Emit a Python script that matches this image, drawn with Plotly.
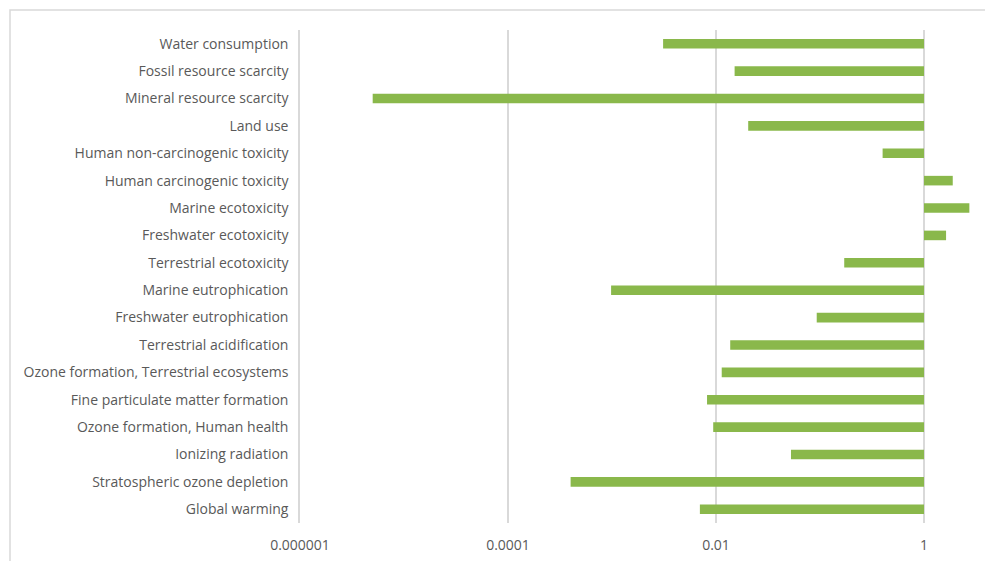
import plotly.graph_objects as go

categories = [
    "Water consumption",
    "Fossil resource scarcity",
    "Mineral resource scarcity",
    "Land use",
    "Human non-carcinogenic toxicity",
    "Human carcinogenic toxicity",
    "Marine ecotoxicity",
    "Freshwater ecotoxicity",
    "Terrestrial ecotoxicity",
    "Marine eutrophication",
    "Freshwater eutrophication",
    "Terrestrial acidification",
    "Ozone formation, Terrestrial ecosystems",
    "Fine particulate matter formation",
    "Ozone formation, Human health",
    "Ionizing radiation",
    "Stratospheric ozone depletion",
    "Global warming",
]
values = [0.0031, 0.0151, 0.0000050, 0.0204, 0.40, 1.89, 2.73, 1.63, 0.171,
          0.00098, 0.093, 0.0137, 0.01135, 0.0082, 0.0094, 0.0526, 0.00040, 0.0070]
baseline = 1.0
tick_vals = [0.000001, 0.0001, 0.01, 1]
tick_text = ["0.000001", "0.0001", "0.01", "1"]

W, H = 985, 561
L, R, T, B = 300, 0, 30, 38
pw, ph = W - L - R, H - T - B
px_per_decade = 104.0
x_max_log = -6 + pw / px_per_decade

fig = go.Figure()
fig.add_trace(go.Bar(
    y=categories,
    x=[v - baseline for v in values],
    base=[baseline] * len(values),
    orientation="h",
    marker=dict(color="#8ab84b", line=dict(width=0)),
    width=0.35,
    showlegend=False,
))

fig.update_layout(
    width=W, height=H,
    margin=dict(l=L, r=R, t=T, b=B, pad=0),
    paper_bgcolor="white", plot_bgcolor="white",
    font=dict(family="Open Sans", size=14, color="#595959"),
    xaxis=dict(
        type="log", range=[-6, x_max_log],
        tickvals=tick_vals, ticktext=tick_text,
        showgrid=True, gridcolor="#d9d9d9", gridwidth=1.5,
        zeroline=False, showline=False, ticks="",
        ticklabelstandoff=12,
        tickfont=dict(size=14, color="#595959"),
    ),
    yaxis=dict(
        categoryorder="array", categoryarray=categories[::-1],
        showgrid=False, showline=True, linecolor="#d9d9d9", linewidth=1.5,
        ticks="", zeroline=False,
        ticklabelstandoff=7,
        tickfont=dict(size=14, color="#595959"),
    ),
    shapes=[dict(
        type="rect", xref="paper", yref="paper",
        x0=(10 - L) / pw, x1=1.2, y0=-0.2, y1=1 + (T - 10) / ph,
        line=dict(color="#d9d9d9", width=1.5), fillcolor="rgba(0,0,0,0)",
        layer="below",
    )],
)
fig.write_html("out.html")
